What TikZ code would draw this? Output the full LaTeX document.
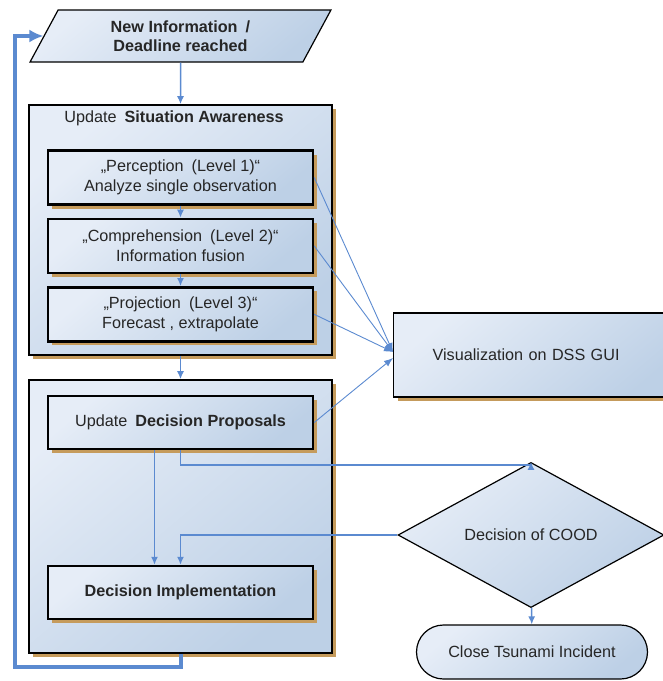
\documentclass[tikz,border=0pt]{standalone}
\usepackage{fontspec}
\setmainfont{Liberation Sans}
\usetikzlibrary{arrows.meta,positioning,shapes.geometric,shadows}
\definecolor{bxlight}{HTML}{E6EDF7}
\definecolor{bxdark}{HTML}{BDD0E6}
\definecolor{flowblue}{HTML}{5B8AD0}
\definecolor{shadowtan}{HTML}{C59B5C}
\definecolor{txtgray}{HTML}{262626}
\tikzstyle{shade} = [top color=bxlight, bottom color=bxdark, shading angle=40]
\tikzstyle{tanshadow} = [drop shadow={shadow xshift=4pt, shadow yshift=-4pt, fill=shadowtan, opacity=1}]
\tikzstyle{group} = [rectangle, draw=black, line width=1.6pt, shade, tanshadow, minimum width=303pt]
\tikzstyle{level} = [rectangle, draw=black, line width=2.4pt, shade, tanshadow, minimum width=265pt, minimum height=54pt, align=center, text=txtgray]
\tikzstyle{plain} = [draw=black, line width=1.2pt, shade, align=center, text=txtgray, inner sep=0pt]
\tikzstyle{arr} = [-{Latex[length=8pt, width=7pt]}, line width=1.5pt, draw=flowblue]
\tikzstyle{thin} = [-{Latex[length=9pt, width=7pt]}, line width=0.9pt, draw=flowblue]
\tikzstyle{back} = [-{Latex[length=14pt, width=13pt]}, line width=4pt, draw=flowblue]

\begin{document}
\begin{tikzpicture}[x=1pt, y=-1pt, node distance=12pt, font=\fontsize{16.2}{19.5}\selectfont]
\useasboundingbox (0,0) rectangle (663,681);
\node[plain, trapezium, trapezium left angle=63, trapezium right angle=117, trapezium stretches=true, minimum width=301pt, minimum height=52pt, font=\fontsize{16.2}{19.5}\selectfont\bfseries] (newinfo) at (180.5,36) {New Information\enspace /\\Deadline reached};

\node[group, minimum height=250pt] (sa) at (180.5,230) {};
\node[text=txtgray] (satitle) at (174,118) {Update\enspace\textbf{Situation Awareness}};
\node[level] (perc) at (180.5,177.5) {„Perception\enspace (Level 1)“\\Analyze single observation};
\node[level, below=of perc] (comp) {„Comprehension\enspace (Level 2)“\\Information fusion};
\node[level, below=of comp] (proj) {„Projection\enspace (Level 3)“\\Forecast , extrapolate};

\node[group, minimum height=273pt] (dp) at (180.5,516.5) {};
\node[level, minimum height=53pt] (dprop) at (180.5,422.5) {Update\enspace\textbf{Decision Proposals}};
\node[level, minimum height=53pt, font=\fontsize{16.2}{19.5}\selectfont\bfseries] (dimpl) at (180.5,592.5) {Decision Implementation};

\node[plain, rectangle, tanshadow, anchor=west, minimum height=84pt, text width=212pt, inner xsep=39pt, align=left] (vis) at (393,355) {Visualization on DSS GUI};
\node[plain, diamond, minimum width=266pt, minimum height=100pt] (cood) at (531,535) {Decision of COOD};
\node[plain, rectangle, rounded corners=27pt, minimum width=231pt, minimum height=54pt] (close) at (532,652) {Close Tsunami Incident};

\coordinate (lp) at (15,667);

\draw[arr] (newinfo) -- (sa);
\draw[arr] (perc) -- (comp);
\draw[arr] (comp) -- (proj);
\draw[arr] (sa) -- (dp);
\draw[thin] (perc.east) -- ([yshift=3pt]vis.west);
\draw[thin] (comp.east) -- ([yshift=3pt]vis.west);
\draw[thin] (proj.east) -- ([yshift=3pt]vis.west);
\draw[thin] (dprop.east) -- ([yshift=-3pt]vis.west);
\draw[arr] ([xshift=-26pt]dprop.south) -- ([xshift=-26pt]dimpl.north);
\draw[arr] (dprop.south) -- ++(0,15) -| (cood.north);
\draw[arr] (cood.west) -| (dimpl.north);
\draw[arr] (cood) -- (close);
\draw[back] (dp.south) |- (lp) |- (newinfo.west);
\end{tikzpicture}
\end{document}
